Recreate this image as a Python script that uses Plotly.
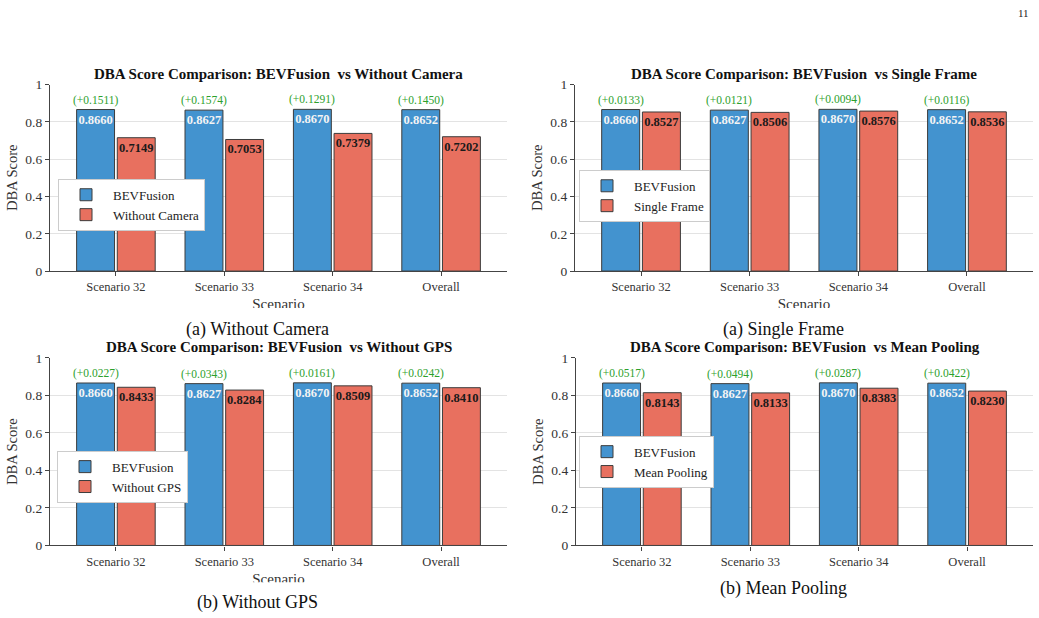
import plotly.graph_objects as go

# ---------------- data ----------------
categories = ["Scenario 32", "Scenario 33", "Scenario 34", "Overall"]
bevfusion = [0.8660, 0.8627, 0.8670, 0.8652]

without_camera = [0.7149, 0.7053, 0.7379, 0.7202]
single_frame = [0.8527, 0.8506, 0.8576, 0.8536]
without_gps = [0.8433, 0.8284, 0.8509, 0.8410]
mean_pooling = [0.8143, 0.8133, 0.8383, 0.8230]

panel_names = ["Without Camera", "Single Frame", "Without GPS", "Mean Pooling"]
panel_values = [without_camera, single_frame, without_gps, mean_pooling]
captions = ["(a) Without Camera", "(a) Single Frame", "(b) Without GPS", "(b) Mean Pooling"]
y_ticks = [0, 0.2, 0.4, 0.6, 0.8, 1]

# ---------------- styling / layout ----------------
W, H = 1039, 618
FONT = "Liberation Serif"
BLUE = "#4393CF"
RED = "#E8705F"
EDGE = "#3c3c3c"
GREEN = "#2ca02c"
AX = "#444444"

# empirical correction of the vertical mapping seen in the rendered page
Y_OFF, Y_SCALE = 6.3, 0.978

def fx(px):
    return px / W

def fy(px):
    return 1 - ((px - Y_OFF) / Y_SCALE) / H

# plot-area pixel boxes: (left, right, top, bottom)
boxes = [(50, 507, 84, 271), (575, 1033, 84, 271), (50, 507, 358, 546), (576, 1033, 358, 546)]
legend_center = [(58, 204), (579, 195), (57, 476.5), (579, 461.5)]
LEG_HALF = 25.5
title_y = [73, 73, 347, 347]
caption_pos = [(257, 330), (783, 330), (257, 603), (783, 589)]
# clipped "Scenario" x-title: (text centre, clip line) in px -- None if not visible
scen_clip = [(305.4, 308), (305.4, 308), (580.4, 583), None]

xs = list(range(len(categories)))
offset = 0.1875

fig = go.Figure()
layout = dict(
    width=W, height=H, margin=dict(l=0, r=0, t=0, b=0),
    paper_bgcolor="white", plot_bgcolor="white",
    barmode="group", bargap=0.25, bargroupgap=0.067,
    font=dict(family=FONT, color="#222"),
    annotations=[], showlegend=True, hovermode=False,
)

for i in range(4):
    n = i + 1
    sfx = "" if n == 1 else str(n)
    l, r, t, b = boxes[i]
    xa = dict(
        domain=[fx(l), fx(r)], anchor="y" + sfx, range=[-0.608, 3.608],
        tickmode="array", tickvals=xs, ticktext=categories,
        showline=True, linecolor=AX, linewidth=1.2,
        ticks="outside", ticklen=4, tickcolor=AX, showgrid=False, zeroline=False,
        tickfont=dict(family=FONT, size=12.5, color="#333"),
    )
    ya = dict(
        domain=[fy(b), fy(t)], anchor="x" + sfx, range=[0, 1],
        tickmode="array", tickvals=y_ticks, ticktext=[f"{v:g}" for v in y_ticks],
        showline=True, linecolor=AX, linewidth=1.2,
        ticks="outside", ticklen=4, tickcolor=AX,
        showgrid=True, gridcolor="#e3e3e3", gridwidth=1, zeroline=False,
        tickfont=dict(family=FONT, size=13.5, color="#333"),
        title=dict(text="DBA Score", font=dict(family=FONT, size=14.5, color="#333"), standoff=4),
    )
    layout["xaxis" + sfx] = xa
    layout["yaxis" + sfx] = ya

    legname = "legend" + sfx
    lx, lc = legend_center[i]
    layout[legname] = dict(
        x=fx(lx), y=fy(lc - LEG_HALF), xanchor="left", yanchor="top",
        bgcolor="white", bordercolor="#cccccc", borderwidth=1,
        font=dict(family=FONT, size=13, color="#222"),
        tracegroupgap=0, itemwidth=44,
    )

    other = panel_values[i]
    fig.add_trace(go.Bar(
        x=xs, y=bevfusion, name="BEVFusion", xaxis="x" + sfx, yaxis="y" + sfx,
        marker=dict(color=BLUE, line=dict(color=EDGE, width=1)),
        text=[f"{v:.4f}" for v in bevfusion], textposition="inside",
        insidetextanchor="end", constraintext="none", textangle=0,
        textfont=dict(family=FONT, size=12.5, color="#f4f4f4", weight="bold"),
        legend=legname, hoverinfo="skip",
    ))
    fig.add_trace(go.Bar(
        x=xs, y=other, name=panel_names[i], xaxis="x" + sfx, yaxis="y" + sfx,
        marker=dict(color=RED, line=dict(color=EDGE, width=1)),
        text=[f"{v:.4f}" for v in other], textposition="inside",
        insidetextanchor="end", constraintext="none", textangle=0,
        textfont=dict(family=FONT, size=12.5, color="#1a1a1a", weight="bold"),
        legend=legname, hoverinfo="skip",
    ))

    # improvement annotations above the BEVFusion bars
    for k, (a, o) in enumerate(zip(bevfusion, other)):
        layout["annotations"].append(dict(
            x=xs[k] - offset, y=a, xref="x" + sfx, yref="y" + sfx,
            text=f"(+{a - o:.4f})", showarrow=False, yanchor="bottom", yshift=1,
            font=dict(family=FONT, size=11.5, color=GREEN),
        ))

    # subplot title
    layout["annotations"].append(dict(
        x=fx((l + r) / 2), y=fy(title_y[i]), xref="paper", yref="paper",
        text="<b>DBA Score Comparison: BEVFusion  vs " + panel_names[i] + "</b>",
        showarrow=False, xanchor="center", yanchor="middle",
        font=dict(family=FONT, size=15, color="#111"),
    ))
    # caption
    cx, cy = caption_pos[i]
    layout["annotations"].append(dict(
        x=fx(cx), y=fy(cy), xref="paper", yref="paper", text=captions[i],
        showarrow=False, xanchor="center", yanchor="middle",
        font=dict(family=FONT, size=18, color="#111"),
    ))

# clipped "Scenario" axis titles (cropped in the original figure)
CLIP_H = 16
for i in range(4):
    if scen_clip[i] is None:
        continue
    n = 5 + i
    l, r, t, b = boxes[i]
    centre, clip = scen_clip[i]
    layout[f"xaxis{n}"] = dict(domain=[fx(l), fx(r)], range=[0, 1], visible=False, anchor=f"y{n}")
    layout[f"yaxis{n}"] = dict(domain=[fy(clip), fy(clip - CLIP_H)], range=[0, 1], visible=False, anchor=f"x{n}")
    fig.add_trace(go.Scatter(
        x=[0.5], y=[(clip - centre) / CLIP_H], mode="text", text=["Scenario"],
        textposition="middle center", cliponaxis=True, showlegend=False, hoverinfo="skip",
        xaxis=f"x{n}", yaxis=f"y{n}",
        textfont=dict(family=FONT, size=15, color="#333"),
    ))

# page number
layout["annotations"].append(dict(
    x=fx(1023), y=fy(12), xref="paper", yref="paper", text="11", showarrow=False,
    xanchor="center", yanchor="middle", font=dict(family=FONT, size=11, color="#222"),
))

fig.update_layout(**layout)
fig.write_html("out.html")
